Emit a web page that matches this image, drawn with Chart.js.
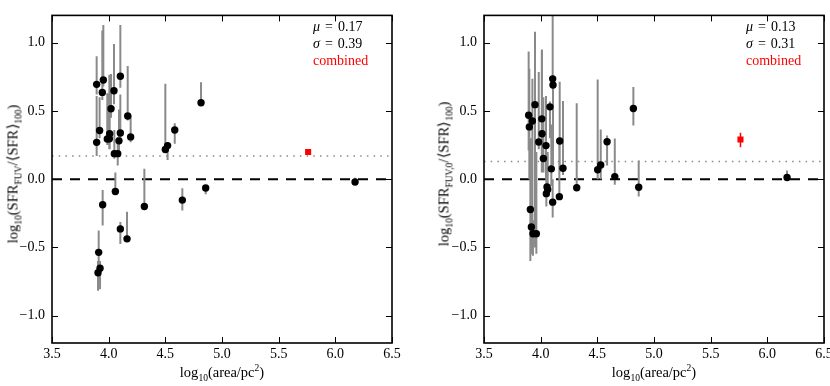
<!DOCTYPE html>
<html>
<head>
<meta charset="utf-8">
<script src="https://cdn.jsdelivr.net/npm/chart.js@4"></script>
<style>
  body { margin: 0; width: 830px; height: 386px; overflow: hidden; background: #fff; position: relative;
         font-family: "Liberation Serif", serif; color: #000; }
  .panel { position: absolute; top: 0; width: 410px; height: 386px; }
  .panel canvas { position: absolute; left: 0; top: 0; }
  .ytitle { position: absolute; transform: translate(-50%, -50%) rotate(-90deg); white-space: nowrap; font-size: 14.5px; }
  .xtitle { position: absolute; transform: translateX(-50%); white-space: nowrap; font-size: 14.5px; }
  .stats { position: absolute; font-size: 14px; line-height: 17px; white-space: nowrap; word-spacing: 1.5px; }
  .stats .red { color: #ff0000; word-spacing: 0; }
  sub, sup { font-size: 9.5px; line-height: 0; }
</style>
</head>
<body>
<div class="panel" style="left:0">
  <canvas id="graficoFuv" width="410" height="386"></canvas>
</div>
<div class="panel" style="left:432px">
  <canvas id="graficoFuv0" width="410" height="386"></canvas>
</div>

<div class="ytitle" style="left:13px; top:174px">log<sub>10</sub>(SFR<sub>FUV</sub>/⟨SFR⟩<sub>100</sub>)</div>
<div class="ytitle" style="left:444px; top:174px">log<sub>10</sub>(SFR<sub>FUV,0</sub>/⟨SFR⟩<sub>100</sub>)</div>
<div class="xtitle" style="left:222px; top:364px">log<sub>10</sub>(area/pc<sup>2</sup>)</div>
<div class="xtitle" style="left:654px; top:364px">log<sub>10</sub>(area/pc<sup>2</sup>)</div>

<div class="stats" style="left:313px; top:18px"><i>μ</i> = 0.17<br><i>σ</i> = 0.39<br><span class="red">combined</span></div>
<div class="stats" style="left:746px; top:18px"><i>μ</i> = 0.13<br><i>σ</i> = 0.31<br><span class="red">combined</span></div>

<script>
// Ticks de los ejes
const xTicks = [3.5, 4.0, 4.5, 5.0, 5.5, 6.0, 6.5];
const yTicks = [-1.0, -0.5, 0.0, 0.5, 1.0];

// Panel izquierdo: SFR_FUV
const fuvX  = [3.894, 3.953, 3.944, 3.894, 3.920, 3.988, 4.006, 4.021, 4.009, 4.047, 4.050, 4.080, 4.091, 4.103, 4.103, 4.168, 4.194,
               4.500, 4.520, 4.583, 4.815, 4.059, 4.856, 4.650, 4.315, 3.947, 4.103, 4.162, 3.912, 3.924, 3.906, 6.174];
const fuvY  = [0.695, 0.727, 0.636, 0.270, 0.357, 0.295, 0.296, 0.516, 0.333, 0.648, 0.187, 0.187, 0.281, 0.754, 0.338, 0.463, 0.310,
               0.218, 0.246, 0.360, 0.560, -0.090, -0.064, -0.153, -0.200, -0.187, -0.364, -0.437, -0.536, -0.652, -0.685, -0.021];
const fuvLo = [0.620, 0.680, 0.580, 0.170, 0.300, 0.250, 0.220, 0.450, 0.220, 0.550, 0.150, 0.100, 0.200, 0.670, 0.300, 0.430, 0.270,
               0.200, 0.140, 0.260, 0.550, -0.110, -0.110, -0.230, -0.200, -0.340, -0.475, -0.437, -0.770, -0.806, -0.818, -0.040];
const fuvHi = [0.900, 1.130, 1.090, 0.610, 0.600, 0.630, 0.766, 0.770, 0.750, 0.990, 0.360, 0.310, 0.510, 1.130, 0.620, 0.830, 0.470,
               0.700, 0.270, 0.410, 0.710, 0.050, -0.050, -0.066, 0.076, -0.080, -0.314, -0.238, -0.376, -0.600, -0.600, 0.010];
const fuvCombX = [5.76];
const fuvCombY = [0.199];
const fuvCombLo = [0.185];
const fuvCombHi = [0.213];
const fuvMedia = 0.17;

// Panel derecho: SFR_FUV,0
const fuv0X  = [3.894, 3.900, 3.927, 3.950, 3.983, 4.010, 4.012, 4.024, 4.047, 4.056, 4.062, 4.050, 4.082, 4.094, 4.106, 4.109,
                4.106, 4.168, 4.165, 4.197, 4.318, 4.503, 4.530, 4.586, 4.654, 4.818, 4.865, 3.909, 3.918, 3.932, 3.962, 6.174];
const fuv0Y  = [0.468, 0.383, 0.426, 0.546, 0.272, 0.442, 0.333, 0.152, 0.246, -0.057, -0.075, -0.106, 0.530, 0.076, 0.735, 0.690,
                -0.168, 0.280, -0.128, 0.080, -0.063, 0.069, 0.104, 0.274, 0.019, 0.518, -0.059, -0.222, -0.350, -0.400, -0.400, 0.012];
const fuv0Lo = [0.210, 0.000, -0.550, -0.500, 0.220, 0.050, 0.200, 0.050, 0.000, -0.100, -0.120, -0.200, 0.300, -0.050, 0.700, 0.100,
                -0.280, 0.100, -0.130, 0.030, -0.063, 0.000, 0.000, 0.100, -0.040, 0.393, -0.127, -0.600, -0.500, -0.560, -0.546, 0.000];
const fuv0Hi = [0.936, 0.810, 0.735, 1.080, 0.785, 0.943, 0.950, 0.600, 0.610, 0.000, 0.200, 0.050, 0.570, 0.400, 1.300, 0.750,
                0.000, 0.714, 0.300, 0.572, 0.556, 0.730, 0.364, 0.320, 0.298, 0.676, 0.137, 0.300, -0.200, -0.300, 0.200, 0.064];
const fuv0CombX = [5.763];
const fuv0CombY = [0.291];
const fuv0CombLo = [0.234];
const fuv0CombHi = [0.340];
const fuv0Media = 0.13;

const fuente = { family: "'Liberation Serif', serif", size: 14 };

// Pasar las barras de error a segmentos separados por null
function segmentos(xs, lo, hi) {
  const pts = [];
  xs.forEach((x, i) => {
    pts.push({ x: x, y: lo[i] }, { x: x, y: hi[i] }, { x: x, y: null });
  });
  return pts;
}

function puntos(xs, ys) {
  return xs.map((x, i) => ({ x: x, y: ys[i] }));
}

// Marco completo y ticks hacia adentro (estilo matplotlib)
const marco = {
  id: "marco",
  afterDatasetsDraw(chart) {
    const { ctx, chartArea: a, scales } = chart;
    ctx.save();
    ctx.strokeStyle = "#000";
    ctx.lineWidth = 1;
    const largo = 6;
    scales.x.ticks.forEach((t, i) => {
      const px = Math.round(scales.x.getPixelForTick(i)) + 0.5;
      ctx.beginPath();
      ctx.moveTo(px, a.bottom); ctx.lineTo(px, a.bottom - largo);
      ctx.moveTo(px, a.top); ctx.lineTo(px, a.top + largo);
      ctx.stroke();
    });
    scales.y.ticks.forEach((t, i) => {
      const py = Math.round(scales.y.getPixelForTick(i)) + 0.5;
      ctx.beginPath();
      ctx.moveTo(a.left, py); ctx.lineTo(a.left + largo, py);
      ctx.moveTo(a.right, py); ctx.lineTo(a.right - largo, py);
      ctx.stroke();
    });
    ctx.lineWidth = 1.6;
    ctx.strokeRect(a.left, a.top, a.right - a.left, a.bottom - a.top);
    ctx.restore();
  }
};

function generarGrafico(id, xs, ys, lo, hi, cx, cy, clo, chi, media) {
  const contexto = document.getElementById(id).getContext("2d");
  return new Chart(contexto, {
    type: "scatter",
    data: {
      datasets: [
        {
          data: puntos(xs, ys),
          backgroundColor: "#000",
          borderColor: "#000",
          pointRadius: 3.7,
          borderWidth: 0,
          order: 0
        },
        {
          data: puntos(cx, cy),
          backgroundColor: "#ff0000",
          borderColor: "#ff0000",
          pointStyle: "rect",
          pointRadius: 4.3,
          borderWidth: 0,
          order: 0
        },
        {
          data: segmentos(xs, lo, hi),
          showLine: true,
          spanGaps: false,
          borderColor: "#8a8a8a",
          borderWidth: 2,
          pointRadius: 0,
          order: 1
        },
        {
          data: segmentos(cx, clo, chi),
          showLine: true,
          spanGaps: false,
          borderColor: "#ff0000",
          borderWidth: 1.5,
          pointRadius: 0,
          order: 1
        },
        {
          data: [{ x: 3.5, y: 0 }, { x: 6.5, y: 0 }],
          showLine: true,
          borderColor: "#000",
          borderWidth: 2,
          borderDash: [10, 8],
          pointRadius: 0,
          order: 2
        },
        {
          data: [{ x: 3.5, y: media }, { x: 6.5, y: media }],
          showLine: true,
          borderColor: "#8a8a8a",
          borderWidth: 1.5,
          borderDash: [1.5, 5.2],
          pointRadius: 0,
          order: 2
        }
      ]
    },
    options: {
      responsive: false,
      animation: false,
      devicePixelRatio: 1,
      layout: { padding: { top: 5, right: 18, left: 0, bottom: 0 } },
      plugins: { legend: { display: false }, tooltip: { enabled: false } },
      scales: {
        x: {
          type: "linear",
          min: 3.5,
          max: 6.5,
          grid: { display: false, drawTicks: false },
          border: { display: false },
          afterBuildTicks: (s) => { s.ticks = xTicks.map((v) => ({ value: v })); },
          afterFit: (s) => { s.height = 43; },
          ticks: { font: fuente, color: "#000", padding: 3, maxRotation: 0, autoSkip: false,
                   callback: (v) => Number(v).toFixed(1) }
        },
        y: {
          min: -1.2,
          max: 1.2,
          grid: { display: false, drawTicks: false },
          border: { display: false },
          afterBuildTicks: (s) => { s.ticks = yTicks.map((v) => ({ value: v })); },
          afterFit: (s) => { s.width = 52; },
          ticks: { font: fuente, color: "#000", padding: 7, autoSkip: false,
                   callback: (v) => Number(v).toFixed(1).replace("-", "\u2212") }
        }
      }
    },
    plugins: [marco]
  });
}

generarGrafico("graficoFuv", fuvX, fuvY, fuvLo, fuvHi, fuvCombX, fuvCombY, fuvCombLo, fuvCombHi, fuvMedia);
generarGrafico("graficoFuv0", fuv0X, fuv0Y, fuv0Lo, fuv0Hi, fuv0CombX, fuv0CombY, fuv0CombLo, fuv0CombHi, fuv0Media);
</script>
</body>
</html>
